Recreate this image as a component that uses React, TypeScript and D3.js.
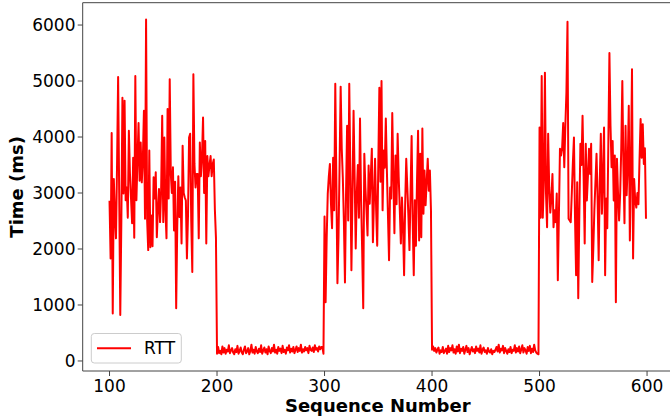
import React from "react";
import * as d3 from "d3";

const startSeq = 100;
const seriesName = "RTT";

const rttSeg1 = [
  2860, 1830, 4070, 850, 3250, 2600, 2190, 3500, 5070, 3000,
  820, 2500, 4700, 2990, 4650, 2870, 3100, 2560, 4110, 3350,
  2900, 2460, 3630, 2200, 5090, 2870, 3600, 4250, 3220, 3900,
  3190, 3600, 4470, 2540, 6100, 2510, 1980, 3760, 2030, 2600,
  2050, 3280, 2900, 3370, 2210, 2700, 3070, 2480, 3040, 4380,
  2480, 3990, 2700, 2190, 4500, 2900, 5030, 3340, 3000, 3460,
  2330, 3200, 940, 2400, 3300, 2570, 3100, 2100, 3845, 3000,
  2920, 2866, 1830, 2600, 3990, 4060, 2500, 1590, 5120, 3520,
  3100, 3340, 3340, 2190, 3900, 3300, 3630, 4350, 3000, 3930,
  2100, 3660, 3300, 3500, 3660, 3300, 3520, 3600, 2700, 2200,
];
const rttSeg2 = [
  130, 250, 140, 180, 120, 260, 150, 230, 130, 200,
  170, 280, 140, 190, 230, 150, 120, 210, 160, 270,
  130, 180, 240, 150, 120, 200, 260, 140, 170, 230,
  120, 180, 290, 150, 200, 130, 250, 170, 140, 220,
  160, 280, 130, 190, 240, 150, 210, 120, 260, 180,
  140, 230, 170, 290, 150, 200, 130, 250, 180, 220,
  140, 270, 160, 200, 130, 240, 190, 280, 150, 220,
  170, 250, 140, 200, 260, 160, 230, 180, 290, 150,
  210, 170, 250, 190, 230, 140, 270, 200, 180, 240,
  160, 280, 200, 230, 170, 260, 210, 250, 250, 130,
];
const rttSeg3 = [
  2580, 1050, 2200, 2990, 3300, 3520, 2800, 2370, 3630, 2690,
  4950, 3200, 1390, 2210, 3500, 4900, 3800, 3280, 2500, 1400,
  3000, 4200, 2510, 4950, 3400, 1620, 3000, 4470, 3300, 2010,
  2990, 3500, 2560, 4330, 2900, 1980, 940, 3700, 3100, 2700,
  2240, 3490, 2810, 3300, 3790, 2120, 2900, 3610, 2700, 2060,
  3500, 4880, 3200, 5000, 2690, 3760, 3450, 4330, 3400, 2600,
  1800, 3100, 2900, 4430, 3300, 2280, 3670, 2800, 4060, 3280,
  2700, 2100, 2920, 2400, 1530, 2800, 3610, 3100, 2600, 1980,
  3000, 4020, 2500, 1530, 2870, 2060, 3200, 4110, 2150, 3700,
  2210, 4150, 2630, 3400, 2780, 3200, 3610, 3040, 3400, 2700,
];
const rttSeg4 = [
  200, 260, 180, 230, 150, 200, 240, 130, 190, 160,
  250, 140, 180, 220, 130, 270, 160, 230, 190, 280,
  150, 210, 130, 260, 170, 290, 140, 220, 180, 250,
  130, 200, 270, 160, 230, 120, 190, 250, 170, 210,
  140, 260, 180, 220, 150, 280, 130, 200, 240, 160,
  190, 130, 230, 170, 150, 210, 120, 180, 160, 200,
  250, 170, 290, 150, 220, 190, 270, 140, 230, 180,
  130, 210, 160, 250, 140, 200, 180, 280, 150, 230,
  170, 260, 140, 200, 280, 150, 230, 190, 130, 250,
  180, 270, 140, 220, 160, 290, 190, 150, 130, 120,
];
const rttSeg5 = [
  4170, 2560, 5090, 2560, 3200, 5150, 3000, 2390, 4060, 3100,
  2650, 2900, 3340, 2390, 2690, 2480, 2990, 1440, 2600, 3790,
  3670, 3800, 4250, 3460, 4200, 4800, 6060, 2540, 2510, 2480,
  3000, 3540, 3990, 2560, 1530, 3190, 1120, 2600, 3880, 3500,
  4380, 3300, 2100, 3880, 2866, 3300, 3790, 3340, 3880, 1410,
  2000, 2700, 3200, 3700, 2900, 1800, 3200, 4060, 2630, 3300,
  4170, 1530, 2900, 2370, 3900, 5500, 4200, 3460, 3930, 2866,
  3670, 1050, 3610, 3000, 2510, 2990, 3800, 5000, 3500, 2460,
  4200, 2960, 3500, 4560, 2150, 3500, 5210, 1830, 3250, 2866,
  2740, 3000, 2800, 3600, 4320, 3630, 4230, 3520, 3800, 2540,
];

const xTicks = [100, 200, 300, 400, 500, 600];
const yTicks = [0, 1000, 2000, 3000, 4000, 5000, 6000];

const rtt = [...rttSeg1, ...rttSeg2, ...rttSeg3, ...rttSeg4, ...rttSeg5];
const data = rtt.map((v, i) => ({ seq: startSeq + i, v }));

const W = 670;
const H = 416;
const L = 82.7, R = 672.8, T = 2.7, B = 371;
const FONT = "DejaVu Sans, sans-serif";

export default function App() {
  const x = d3.scaleLinear().domain([75.05, 623.95]).range([L, R]);
  const y = d3.scaleLinear().domain([-179, 6399]).range([B, T]);
  const line = d3
    .line<{ seq: number; v: number }>()
    .x((d) => x(d.seq))
    .y((d) => y(d.v));
  const axisColor = "#444";
  return (
    <svg
      width={W}
      height={H}
      style={{ position: "absolute", left: 0, top: 0, background: "#fff" }}
      fontFamily={FONT}
    >
      <defs>
        <clipPath id="plotclip">
          <rect x={L} y={T} width={R - L} height={B - T} />
        </clipPath>
      </defs>
      <path
        d={line(data) || ""}
        fill="none"
        stroke="#ff0000"
        strokeWidth={2}
        strokeLinejoin="round"
        clipPath="url(#plotclip)"
      />
      {/* spines */}
      <line x1={L} x2={L} y1={T} y2={B} stroke={axisColor} strokeWidth={1} />
      <line x1={L} x2={R} y1={B} y2={B} stroke={axisColor} strokeWidth={1} />
      <line x1={L} x2={R} y1={T} y2={T} stroke={axisColor} strokeWidth={1} />
      <line x1={R} x2={R} y1={T} y2={B} stroke={axisColor} strokeWidth={1} />
      {/* x ticks */}
      {xTicks.map((t) => (
        <g key={"x" + t}>
          <line x1={x(t)} x2={x(t)} y1={B} y2={B + 5} stroke={axisColor} strokeWidth={1} />
          <text x={x(t)} y={392} textAnchor="middle" fontSize={17} fill="#000">
            {t}
          </text>
        </g>
      ))}
      {/* y ticks */}
      {yTicks.map((t) => (
        <g key={"y" + t}>
          <line x1={L - 5} x2={L} y1={y(t)} y2={y(t)} stroke={axisColor} strokeWidth={1} />
          <text x={75.5} y={y(t)} dy="0.36em" textAnchor="end" fontSize={17} fill="#000">
            {t}
          </text>
        </g>
      ))}
      <text
        x={(L + R) / 2}
        y={412}
        textAnchor="middle"
        fontSize={18}
        fontWeight="bold"
        fill="#000"
      >
        Sequence Number
      </text>
      <text
        transform={`translate(23,${(T + B) / 2}) rotate(-90)`}
        textAnchor="middle"
        fontSize={18}
        fontWeight="bold"
        fill="#000"
      >
        Time (ms)
      </text>
      {/* legend */}
      <rect
        x={91.3}
        y={333.5}
        width={90}
        height={29.5}
        rx={3}
        fill="#fff"
        fillOpacity={0.8}
        stroke="#ccc"
        strokeWidth={1}
      />
      <line x1={97} x2={131} y1={348.3} y2={348.3} stroke="#ff0000" strokeWidth={2} />
      <text x={144} y={348.3} dy="0.36em" fontSize={17} fill="#000">
        {seriesName}
      </text>
    </svg>
  );
}
